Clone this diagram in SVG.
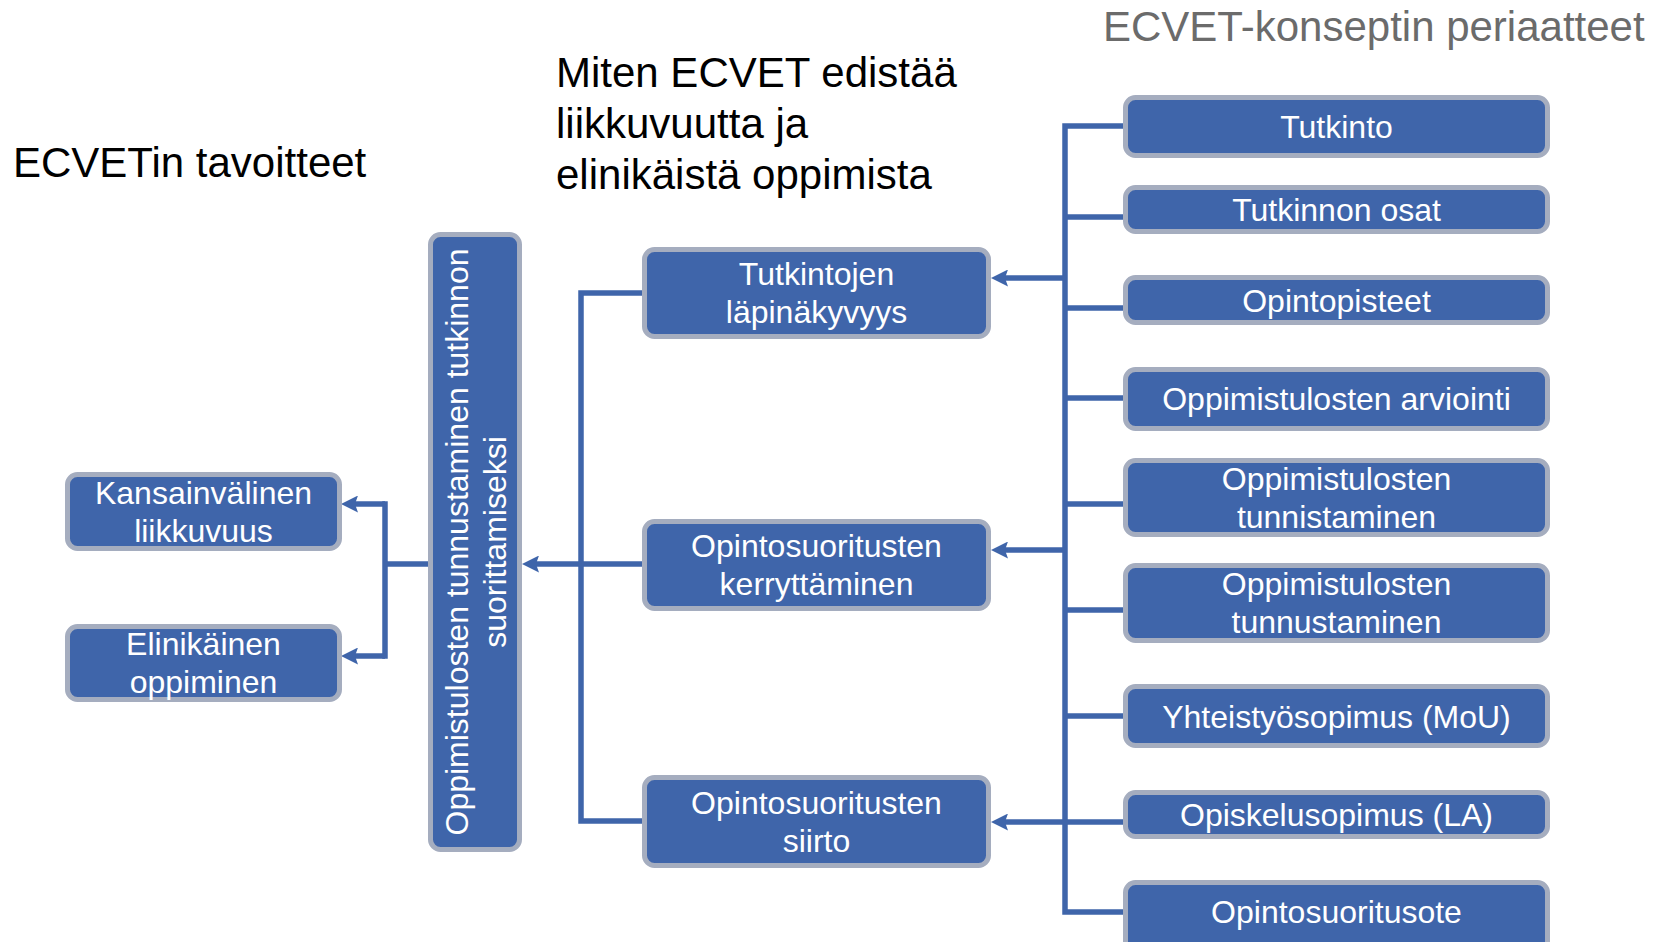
<svg xmlns="http://www.w3.org/2000/svg" width="1657" height="942" viewBox="0 0 1657 942">
<style>
.box{fill:#3F65AA;stroke:#A5ADBF;stroke-width:5}
.bt{font-family:"Liberation Sans",Arial,sans-serif;font-size:32px;fill:#FFFFFF;text-anchor:middle}
.title{font-family:"Liberation Sans",Arial,sans-serif;font-size:42px;fill:#000000}
.gray{fill:#6B6B6B}
.ln{fill:none;stroke:#3F65AA;stroke-width:5.5;stroke-linejoin:miter}
.ar{marker-end:url(#ah)}
</style>
<defs>
<marker id="ah" markerUnits="userSpaceOnUse" viewBox="0 0 17 17" markerWidth="17" markerHeight="17" refX="7" refY="8.5" orient="auto">
<path d="M0,0 L17,8.5 L0,17 L3,8.5 Z" fill="#3F65AA"/>
</marker>
</defs>
<rect width="1657" height="942" fill="#FFFFFF"/>
<g id="titles">
<text class="title" x="13" y="177">ECVETin tavoitteet</text>
<text class="title" x="556" y="87">Miten ECVET edistää</text>
<text class="title" x="556" y="138">liikkuvuutta ja</text>
<text class="title" x="556" y="189">elinikäistä oppimista</text>
<text class="title gray" x="1103" y="41">ECVET-konseptin periaatteet</text>
</g>
<g id="connectors">
<path class="ln" d="M1065,126 L1126,126 M1065,217 L1126,217 M1065,308 L1126,308 M1065,398 L1126,398 M1065,504 L1126,504 M1065,610 L1126,610 M1065,716 L1126,716 M1065,822 L1126,822 M1065,912 L1126,912 M1065,123.25 L1065,914.75"/>
<path class="ln ar" d="M1065,278 L1001,278"/>
<path class="ln ar" d="M1065,550 L1001,550"/>
<path class="ln ar" d="M1065,822 L1001,822"/>
<path class="ln" d="M645,293 L581,293 L581,821 L645,821 M581,564 L645,564"/>
<path class="ln ar" d="M581,564 L532,564"/>
<path class="ln" d="M430,564 L385,564 M385,501.25 L385,658.75"/>
<path class="ln ar" d="M385,504 L351,504"/>
<path class="ln ar" d="M385,656 L351,656"/>
</g>
<g id="n-kansainvalinen">
<rect class="box" x="67.5" y="474.5" width="272" height="74" rx="10"/>
<text class="bt" x="203.5" y="503.5">Kansainvälinen</text>
<text class="bt" x="203.5" y="542">liikkuvuus</text>
</g>
<g id="n-elinikainen">
<rect class="box" x="67.5" y="626.5" width="272" height="73" rx="10"/>
<text class="bt" x="203.5" y="655">Elinikäinen</text>
<text class="bt" x="203.5" y="693.4">oppiminen</text>
</g>
<g id="n-oppimistulosten-vertical">
<rect class="box" x="430.5" y="234.5" width="89" height="615" rx="10"/>
<g transform="translate(476,542) rotate(-90)">
<text class="bt" x="0" y="-8">Oppimistulosten tunnustaminen tutkinnon</text>
<text class="bt" x="0" y="30.4">suorittamiseksi</text>
</g>
</g>
<g id="n-tutkintojen">
<rect class="box" x="644.5" y="249.5" width="344" height="87" rx="10"/>
<text class="bt" x="816.5" y="285">Tutkintojen</text>
<text class="bt" x="816.5" y="323.4">läpinäkyvyys</text>
</g>
<g id="n-kerryttaminen">
<rect class="box" x="644.5" y="521.5" width="344" height="87" rx="10"/>
<text class="bt" x="816.5" y="557">Opintosuoritusten</text>
<text class="bt" x="816.5" y="595.4">kerryttäminen</text>
</g>
<g id="n-siirto">
<rect class="box" x="644.5" y="777.5" width="344" height="88" rx="10"/>
<text class="bt" x="816.5" y="813.5">Opintosuoritusten</text>
<text class="bt" x="816.5" y="852">siirto</text>
</g>
<g id="n-tutkinto">
<rect class="box" x="1125.5" y="97.5" width="422" height="58" rx="10"/>
<text class="bt" x="1336.5" y="137.5">Tutkinto</text>
</g>
<g id="n-tutkinnon-osat">
<rect class="box" x="1125.5" y="187.5" width="422" height="44" rx="10"/>
<text class="bt" x="1336.5" y="221">Tutkinnon osat</text>
</g>
<g id="n-opintopisteet">
<rect class="box" x="1125.5" y="277.5" width="422" height="45" rx="10"/>
<text class="bt" x="1336.5" y="312">Opintopisteet</text>
</g>
<g id="n-arviointi">
<rect class="box" x="1125.5" y="369.5" width="422" height="59" rx="10"/>
<text class="bt" x="1336.5" y="410">Oppimistulosten arviointi</text>
</g>
<g id="n-tunnistaminen">
<rect class="box" x="1125.5" y="460.5" width="422" height="74" rx="10"/>
<text class="bt" x="1336.5" y="489.5">Oppimistulosten</text>
<text class="bt" x="1336.5" y="528">tunnistaminen</text>
</g>
<g id="n-tunnustaminen">
<rect class="box" x="1125.5" y="565.5" width="422" height="75" rx="10"/>
<text class="bt" x="1336.5" y="595">Oppimistulosten</text>
<text class="bt" x="1336.5" y="633.4">tunnustaminen</text>
</g>
<g id="n-mou">
<rect class="box" x="1125.5" y="686.5" width="422" height="59" rx="10"/>
<text class="bt" x="1336.5" y="728">Yhteistyösopimus (MoU)</text>
</g>
<g id="n-la">
<rect class="box" x="1125.5" y="792.5" width="422" height="44" rx="10"/>
<text class="bt" x="1336.5" y="826">Opiskelusopimus (LA)</text>
</g>
<g id="n-opintosuoritusote">
<rect class="box" x="1125.5" y="882.5" width="422" height="70" rx="10"/>
<text class="bt" x="1336.5" y="923">Opintosuoritusote</text>
</g>
</svg>
